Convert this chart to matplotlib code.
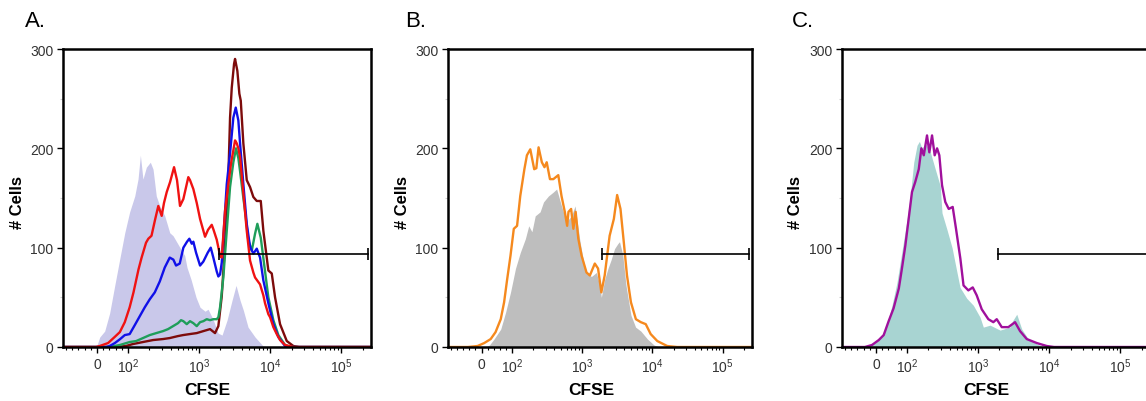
import numpy as np
import matplotlib
matplotlib.use('Agg')
import matplotlib.pyplot as plt

plt.rcParams['font.family'] = ['Liberation Sans', 'DejaVu Sans']
plt.rcParams['mathtext.fontset'] = 'custom'
plt.rcParams['mathtext.rm'] = 'Liberation Sans'
plt.rcParams['mathtext.it'] = 'Liberation Sans:italic'
plt.rcParams['mathtext.bf'] = 'Liberation Sans:bold'
plt.rcParams['mathtext.default'] = 'regular'

# ---- Panel A: CFSE histograms (control fill + four stimulated samples) ----
a_lav_x = [-110, -2, 9, 25, 41, 57, 74, 90, 106, 125, 139, 150, 163, 182, 207, 226, 251, 281, 330, 388,
           432, 541, 630, 679, 773, 909, 1035, 1217, 1341, 1576, 1854, 2110, 2481, 2917, 3320, 3780,
           4205, 4896, 6142, 7960, 10000, 262144]
a_lav_y = [0, 0, 10, 16, 34, 61, 89, 115, 136, 152, 169, 193, 169, 181, 186, 179, 152, 142, 132, 115,
           112, 100, 92, 80, 68, 50, 40, 36, 38, 28, 14, 12, 27, 47, 62, 47,
           37, 20, 10, 1, 0, 0]

a_red_x = [-110, -3, 9, 36, 57, 74, 90, 106, 120, 141, 156, 180, 194, 215, 241, 268, 299, 322, 352, 392,
           446, 491, 541, 603, 708, 748, 833, 930, 1035, 1217, 1341, 1511, 1602, 1777, 1978, 2089,
           2325, 2587, 2824, 3042, 3214, 3396, 3577, 3780, 4205, 4694, 5224, 5813, 6142, 7223, 8037,
           8491, 9450, 9984, 11110, 12400, 13800, 16230, 21230, 262144]
a_red_y = [0, 0, 1, 4, 10, 15, 25, 40, 55, 78, 90, 105, 109, 112, 128, 142, 132, 145, 156, 166,
           181, 168, 142, 149, 171, 168, 159, 145, 129, 111, 118, 123, 118, 108, 92, 90,
           137, 164, 185, 198, 208, 205, 200, 191, 155, 117, 87, 75, 70, 63, 52,
           44, 33, 30, 20, 13, 7, 2, 0, 0]

a_blue_x = [-110, 30, 41, 58, 75, 90, 106, 125, 147, 173, 203, 239, 281, 330, 388, 436, 476, 536, 603,
            679, 732, 791, 833, 909, 1035, 1151, 1328, 1463, 1591, 1777, 1872, 1978, 2089, 2200,
            2457, 2734, 3042, 3288, 3577, 3780, 4205, 4694, 5224, 5813, 6492, 7223, 8037, 9450,
            11110, 13060, 16230, 19720, 262144]
a_blue_y = [0, 0, 1, 4, 8, 12, 13, 22, 31, 40, 48, 55, 66, 80, 90, 88, 82, 84, 100,
            106, 109, 104, 106, 95, 82, 86, 95, 100, 90, 76, 71, 73, 85, 110,
            164, 195, 231, 241, 228, 205, 164, 124, 101, 94, 99, 90, 67, 44,
            23, 10, 1, 0, 0]

a_green_x = [-110, 40, 74, 106, 131, 163, 203, 251, 312, 367, 432, 507, 559, 603, 673, 748, 833, 930,
             1035, 1151, 1285, 1430, 1591, 1777, 1872, 1978, 2200, 2457, 2734, 3042, 3320, 3577,
             3780, 4205, 4443, 4944, 5520, 6142, 6620, 7389, 8220, 9450, 11110, 13060, 16230,
             19720, 262144]
a_green_y = [0, 0, 2, 5, 6, 9, 12, 14, 16, 18, 21, 24, 27, 26, 23, 26, 24, 21,
             25, 26, 28, 27, 28, 28, 30, 40, 70, 117, 161, 186, 200, 190,
             177, 150, 137, 107, 97, 114, 124, 110, 84, 50, 27, 12, 2,
             0, 0]

a_maroon_x = [-110, 60, 94, 118, 163, 226, 312, 388, 507, 597, 741, 930, 1151, 1430, 1682, 1872, 2089,
              2325, 2587, 2734, 2888, 3112, 3214, 3463, 3695, 3867, 4205, 4694, 5224, 5813, 6492,
              7389, 8037, 9450, 10550, 11740, 13800, 17150, 21230, 25540, 262144]
a_maroon_y = [0, 0, 1, 3, 5, 7, 8, 9, 11, 12, 13, 14, 16, 18, 14, 21, 51,
              104, 171, 231, 261, 285, 290, 278, 255, 248, 205, 168, 161, 151, 147,
              147, 117, 77, 74, 50, 23, 6, 1, 0, 0]

# ---- Panel B ----
b_grey_x = [-110, 13, 26, 41, 63, 79, 95, 112, 131, 155, 173, 192, 214, 251, 281, 330, 388, 432, 507,
            597, 702, 791, 930, 1035, 1151, 1354, 1591, 1777, 1872, 2089, 2325, 2587, 2888, 3214,
            3396, 3780, 4205, 4944, 5758, 6837, 8491, 10550, 12530, 262144]
b_grey_y = [0, 0, 2, 8, 18, 35, 55, 79, 95, 109, 122, 116, 132, 136, 146, 152, 156, 159, 142,
            126, 132, 142, 106, 88, 74, 71, 75, 62, 50, 68, 79, 88, 99, 104,
            106, 93, 62, 32, 20, 16, 8, 2, 0, 0]

b_orange_x = [-110, -45, -13, 9, 30, 46, 63, 74, 84, 95, 106, 118, 131, 150, 163, 182, 207, 222, 239,
              266, 290, 312, 347, 388, 456, 507, 565, 610, 637, 695, 748, 806, 880, 979, 1151,
              1285, 1511, 1682, 1872, 2089, 2457, 2824, 3143, 3508, 3905, 4343, 4944, 5813, 6837,
              8037, 9450, 11740, 16230, 22440, 262144]
b_orange_y = [0, 0, 1, 4, 8, 15, 28, 45, 68, 92, 119, 122, 152, 179, 193, 199, 179, 180, 201,
              186, 181, 186, 169, 169, 173, 152, 136, 122, 136, 139, 119, 136, 109, 92, 75,
              72, 84, 79, 55, 72, 112, 129, 153, 139, 106, 72, 45, 28, 25,
              23, 13, 6, 1, 0, 0]

# ---- Panel C ----
c_teal_x = [-110, -26, -3, 20, 36, 52, 68, 84, 101, 112, 125, 139, 150, 163, 182, 214, 251, 295, 312,
            367, 432, 491, 559, 695, 860, 1069, 1189, 1477, 2043, 2824, 3112, 3508, 4124, 5106,
            6705, 8491, 262144]
c_teal_y = [0, 0, 4, 12, 23, 42, 65, 96, 129, 153, 186, 203, 207, 200, 205, 196, 179, 162, 135,
            118, 100, 80, 60, 49, 42, 30, 20, 22, 17, 20, 27, 33, 18, 8,
            3, 0, 0]

c_magenta_x = [-110, -36, -13, 9, 25, 41, 57, 74, 84, 95, 106, 118, 131, 147, 160, 173, 192, 207, 226,
               246, 266, 286, 312, 347, 388, 441, 491, 565, 626, 732, 844, 960, 1129, 1398, 1644,
               1835, 2158, 2673, 3320, 3905, 4849, 6705, 9268, 11740, 262144]
c_magenta_y = [0, 0, 2, 7, 12, 26, 39, 59, 79, 102, 129, 156, 166, 179, 200, 193, 213, 196, 213,
               193, 200, 193, 163, 146, 139, 141, 119, 89, 62, 57, 60, 52, 38, 28, 25,
               28, 20, 20, 25, 16, 8, 4, 1, 0, 0]

# gate marker (same in all panels)
gate_x = [1900, 240000]
gate_y = 94

x_major = [0, 100, 1000, 10000, 100000]
x_major_labels = ['0', '$10^2$', '$10^3$', '$10^4$', '$10^5$']
y_major = [0, 100, 200, 300]


def fwd(x):
    # biexponential-like display: linear around zero, log above 100
    x = np.asarray(x, dtype=float)
    return np.where(x >= 100, np.log10(np.maximum(x, 100)) - 2, (x - 100) / (100 * np.log(10)))


def inv(y):
    y = np.asarray(y, dtype=float)
    return np.where(y >= 0, 100 * 10 ** np.clip(y, 0, 10), 100 + y * 100 * np.log(10))


def setup_axes(ax):
    ax.set_xscale('function', functions=(fwd, inv))

    minor = [-100, -80, -60, -40, -20, 20, 40, 60, 80]
    for k in [2, 3, 4, 5]:
        minor += [m * 10 ** k for m in range(2, 10) if m * 10 ** k < 262144]
    ax.set_xticks(x_major, labels=x_major_labels)
    ax.set_xticks(minor, minor=True)
    ax.set_yticks(y_major)
    ax.set_yticks([50, 150, 250], minor=True)
    # limits last, set_xticks would widen them
    ax.set_xlim(-110, 262144)
    ax.set_ylim(0, 300)

    ax.tick_params(axis='both', which='major', direction='out', length=4, width=1,
                   labelsize=10, labelcolor='#333333', pad=3)
    ax.tick_params(axis='x', which='minor', direction='out', length=2.2, width=0.8)
    ax.tick_params(axis='y', which='minor', direction='out', length=2.5, width=0.8, color='#d0d0d0')

    for s in ax.spines.values():
        s.set_linewidth(1.8)

    ax.set_xlabel('CFSE', fontsize=12.5, fontweight='bold')
    ax.set_ylabel('# Cells', fontsize=12, fontweight='bold')
    ax.xaxis.set_label_coords(0.47, -0.118)
    ax.yaxis.set_label_coords(-0.125, 0.487)


def draw_gate(ax):
    ax.plot(gate_x, [gate_y, gate_y], color='black', lw=1.2,
            marker='|', markersize=9, markeredgewidth=1.2)


fig = plt.figure(figsize=(11.46, 4.02), dpi=100)
W, H = 1146.0, 402.0
bottom = (H - 348) / H
height = 298 / H

ax_a = fig.add_axes([63 / W, bottom, 308 / W, height])
ax_b = fig.add_axes([448 / W, bottom, 304 / W, height])
ax_c = fig.add_axes([842 / W, bottom, 308 / W, height])

# Panel A
ax_a.fill_between(a_lav_x, a_lav_y, color='#c9c8ea', lw=0)
ax_a.plot(a_maroon_x, a_maroon_y, color='#7d0b0b', lw=1.7)
ax_a.plot(a_green_x, a_green_y, color='#1f9e5a', lw=1.7)
ax_a.plot(a_blue_x, a_blue_y, color='#1010e8', lw=1.7)
ax_a.plot(a_red_x, a_red_y, color='#f01212', lw=1.7)
draw_gate(ax_a)
setup_axes(ax_a)

# Panel B
ax_b.fill_between(b_grey_x, b_grey_y, color='#bebebe', lw=0)
ax_b.plot(b_orange_x, b_orange_y, color='#f5891e', lw=1.7)
draw_gate(ax_b)
setup_axes(ax_b)

# Panel C
ax_c.fill_between(c_teal_x, c_teal_y, color='#a8d4d2', lw=0)
ax_c.plot(c_magenta_x, c_magenta_y, color='#a0109c', lw=1.7)
draw_gate(ax_c)
setup_axes(ax_c)

for label, px in [('A.', 25), ('B.', 405), ('C.', 792)]:
    fig.text(px / W, 1 - 27 / H, label, fontsize=16, va='baseline', ha='left')

fig.savefig('out.png', dpi=100)
plt.close(fig)
